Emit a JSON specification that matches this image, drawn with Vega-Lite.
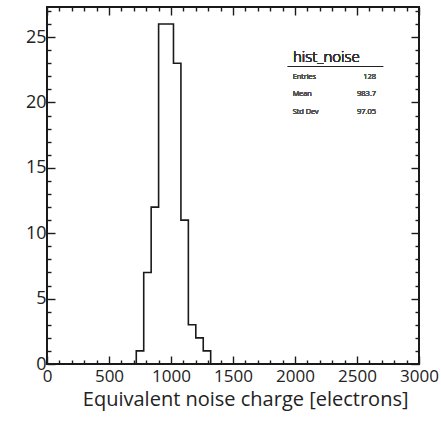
{
  "$schema": "https://vega.github.io/schema/vega-lite/v6.json",
  "width": 372,
  "height": 357,
  "autosize": {"type": "none"},
  "padding": {"left": 47, "top": 7, "right": 22, "bottom": 57},
  "background": "white",
  "config": {
    "view": {"stroke": "#1a1a1a", "strokeWidth": 2},
    "font": "Open Sans",
    "axis": {
      "domain": false,
      "grid": false,
      "tickColor": "#1a1a1a",
      "tickWidth": 1.4,
      "labelColor": "#222",
      "labelFont": "Open Sans",
      "labelFontSize": 17,
      "labelFontWeight": "normal",
      "titleColor": "#222",
      "titleFont": "Open Sans",
      "titleFontWeight": "normal"
    }
  },
  "data": {
    "values": [
      {"edge": 660, "count": 0},
      {"edge": 720, "count": 1},
      {"edge": 780, "count": 7},
      {"edge": 840, "count": 12},
      {"edge": 900, "count": 26},
      {"edge": 960, "count": 26},
      {"edge": 1020, "count": 23},
      {"edge": 1080, "count": 11},
      {"edge": 1140, "count": 3},
      {"edge": 1200, "count": 2},
      {"edge": 1260, "count": 1},
      {"edge": 1320, "count": 0}
    ]
  },
  "layer": [
    {
      "mark": {"type": "line", "interpolate": "step-after", "color": "#1a1a1a", "strokeWidth": 1.6},
      "encoding": {
        "x": {
          "field": "edge", "type": "quantitative",
          "scale": {"domain": [0, 3000], "nice": false, "zero": false},
          "axis": {
            "orient": "bottom",
            "values": [0,100,200,300,400,500,600,700,800,900,1000,1100,1200,1300,1400,1500,1600,1700,1800,1900,2000,2100,2200,2300,2400,2500,2600,2700,2800,2900,3000],
            "format": "d",
            "labelExpr": "datum.value % 500 === 0 ? datum.label : ''",
            "tickSize": {"condition": {"test": "datum.value % 500 === 0", "value": -8}, "value": -4},
            "labelPadding": 12,
            "labelFlush": false,
            "labelOverlap": false,
            "title": "Equivalent noise charge [electrons]",
            "titleFontSize": 20,
            "titleAnchor": "end",
            "titleAlign": "right",
            "titleX": 361,
            "titleY": 41,
            "titleBaseline": "alphabetic"
          }
        },
        "y": {
          "field": "count", "type": "quantitative",
          "scale": {"domain": [0, 27.3], "nice": false, "zero": true},
          "axis": {
            "orient": "left",
            "values": [0,1,2,3,4,5,6,7,8,9,10,11,12,13,14,15,16,17,18,19,20,21,22,23,24,25,26,27],
            "format": "d",
            "labelExpr": "datum.value % 5 === 0 ? datum.label : ''",
            "tickSize": {"condition": {"test": "datum.value % 5 === 0", "value": -8}, "value": -4},
            "labelPadding": 9,
            "labelFontSize": 18,
            "labelFlush": false,
            "labelOverlap": false,
            "title": null
          }
        }
      }
    },
    {
      "mark": {"type": "line", "strokeOpacity": 0},
      "encoding": {
        "x": {
          "field": "edge", "type": "quantitative",
          "scale": {"domain": [0, 3000], "nice": false, "zero": false},
          "axis": {
            "orient": "top",
            "values": [0,100,200,300,400,500,600,700,800,900,1000,1100,1200,1300,1400,1500,1600,1700,1800,1900,2000,2100,2200,2300,2400,2500,2600,2700,2800,2900,3000],
            "labels": false,
            "tickSize": {"condition": {"test": "datum.value % 500 === 0", "value": -8}, "value": -4},
            "title": null
          }
        },
        "y": {
          "field": "count", "type": "quantitative",
          "scale": {"domain": [0, 27.3], "nice": false, "zero": true},
          "axis": {
            "orient": "right",
            "values": [0,1,2,3,4,5,6,7,8,9,10,11,12,13,14,15,16,17,18,19,20,21,22,23,24,25,26,27],
            "labels": false,
            "tickSize": {"condition": {"test": "datum.value % 5 === 0", "value": -8}, "value": -4},
            "title": null
          }
        }
      }
    },
    {
      "mark": {"type": "text", "text": "hist_noise", "align": "left", "baseline": "alphabetic", "fontSize": 15, "fontWeight": 300, "font": "Open Sans", "fill": "#333"},
      "encoding": {
        "x": {"datum": 1984, "type": "quantitative", "scale": {"domain": [0, 3000], "nice": false, "zero": false}, "axis": null},
        "y": {"datum": 23.13, "type": "quantitative", "scale": {"domain": [0, 27.3], "nice": false, "zero": true}, "axis": null}
      }
    },
    {
      "mark": {"type": "rule", "stroke": "#222", "strokeWidth": 1.2},
      "encoding": {
        "x": {"datum": 1943, "type": "quantitative", "scale": {"domain": [0, 3000], "nice": false, "zero": false}, "axis": null},
        "x2": {"datum": 2710},
        "y": {"datum": 22.75, "type": "quantitative", "scale": {"domain": [0, 27.3], "nice": false, "zero": true}, "axis": null}
      }
    },
    {
      "mark": {"type": "text", "text": ["Entries", "Mean", "Std Dev"], "lineHeight": 17.5, "align": "left", "baseline": "middle", "fontSize": 7.5, "fontWeight": 300, "font": "Open Sans", "fill": "#555"},
      "encoding": {
        "x": {"datum": 1981, "type": "quantitative", "scale": {"domain": [0, 3000], "nice": false, "zero": false}, "axis": null},
        "y": {"datum": 21.98, "type": "quantitative", "scale": {"domain": [0, 27.3], "nice": false, "zero": true}, "axis": null}
      }
    },
    {
      "mark": {"type": "text", "text": ["128", "983.7", "97.05"], "lineHeight": 17.5, "align": "right", "baseline": "middle", "fontSize": 7.5, "fontWeight": 300, "font": "Open Sans", "fill": "#555"},
      "encoding": {
        "x": {"datum": 2653, "type": "quantitative", "scale": {"domain": [0, 3000], "nice": false, "zero": false}, "axis": null},
        "y": {"datum": 21.98, "type": "quantitative", "scale": {"domain": [0, 27.3], "nice": false, "zero": true}, "axis": null}
      }
    }
  ],
  "resolve": {"axis": {"x": "independent", "y": "independent"}}
}
